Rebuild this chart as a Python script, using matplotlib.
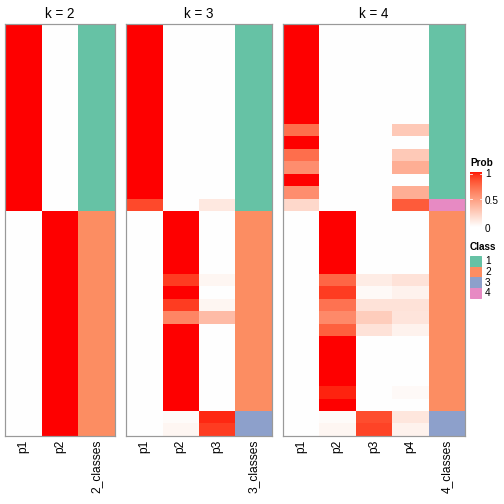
import numpy as np
import matplotlib
matplotlib.use('Agg')
from matplotlib import pyplot as plt
from matplotlib.colors import ListedColormap

plt.rcParams['font.family'] = ['Liberation Sans', 'DejaVu Sans']

# membership probabilities, one value per sample (33 samples, top to bottom)
k2_p1 = [1, 1, 1, 1, 1, 1, 1, 1, 1, 1, 1, 1, 1, 1, 1,
         0, 0, 0, 0, 0, 0, 0, 0, 0, 0, 0, 0, 0, 0, 0, 0, 0, 0]
k2_p2 = [0, 0, 0, 0, 0, 0, 0, 0, 0, 0, 0, 0, 0, 0, 0,
         1, 1, 1, 1, 1, 1, 1, 1, 1, 1, 1, 1, 1, 1, 1, 1, 1, 1]
k2_class = [1, 1, 1, 1, 1, 1, 1, 1, 1, 1, 1, 1, 1, 1, 1,
            2, 2, 2, 2, 2, 2, 2, 2, 2, 2, 2, 2, 2, 2, 2, 2, 2, 2]

k3_p1 = [1, 1, 1, 1, 1, 1, 1, 1, 1, 1, 1, 1, 1, 1, 0.86,
         0, 0, 0, 0, 0, 0, 0, 0, 0, 0, 0, 0, 0, 0, 0, 0, 0, 0]
k3_p2 = [0, 0, 0, 0, 0, 0, 0, 0, 0, 0, 0, 0, 0, 0, 0,
         1, 1, 1, 1, 1, 0.9, 1, 0.9, 0.62, 1, 1, 1, 1, 1, 1, 1, 0.02, 0.05]
k3_p3 = [0, 0, 0, 0, 0, 0, 0, 0, 0, 0, 0, 0, 0, 0, 0.12,
         0, 0, 0, 0, 0, 0.05, 0, 0.05, 0.35, 0, 0, 0, 0, 0, 0, 0, 0.95, 0.9]
k3_class = [1, 1, 1, 1, 1, 1, 1, 1, 1, 1, 1, 1, 1, 1, 1,
            2, 2, 2, 2, 2, 2, 2, 2, 2, 2, 2, 2, 2, 2, 2, 2, 3, 3]

k4_p1 = [1, 1, 1, 1, 1, 1, 1, 1, 0.72, 1, 0.72, 0.58, 1, 0.58, 0.2,
         0, 0, 0, 0, 0, 0, 0, 0, 0, 0, 0, 0, 0, 0, 0, 0, 0, 0]
k4_p2 = [0, 0, 0, 0, 0, 0, 0, 0, 0, 0, 0, 0, 0, 0, 0,
         1, 1, 1, 1, 1, 0.75, 0.9, 0.7, 0.6, 0.78, 1, 1, 1, 1, 0.96, 1, 0.02, 0.05]
k4_p3 = [0, 0, 0, 0, 0, 0, 0, 0, 0, 0, 0, 0, 0, 0, 0,
         0, 0, 0, 0, 0, 0.1, 0.03, 0.15, 0.26, 0.15, 0, 0, 0, 0, 0, 0, 0.85, 0.88]
k4_p4 = [0, 0, 0, 0, 0, 0, 0, 0, 0.28, 0, 0.28, 0.42, 0, 0.42, 0.8,
         0, 0, 0, 0, 0, 0.15, 0.07, 0.15, 0.14, 0.07, 0, 0, 0, 0, 0.03, 0, 0.13, 0.07]
k4_class = [1, 1, 1, 1, 1, 1, 1, 1, 1, 1, 1, 1, 1, 1, 4,
            2, 2, 2, 2, 2, 2, 2, 2, 2, 2, 2, 2, 2, 2, 2, 2, 3, 3]

class_labels = ['1', '2', '3', '4']
class_colors = ['#66C2A5', '#FC8D62', '#8DA0CB', '#E78AC3']


# white -> red ramp interpolated in LAB space (like colorRamp2)
def srgb_to_lab(rgb):
    rgb = np.asarray(rgb, float)
    lin = np.where(rgb <= 0.04045, rgb / 12.92, ((rgb + 0.055) / 1.055) ** 2.4)
    M = np.array([[0.4124, 0.3576, 0.1805], [0.2126, 0.7152, 0.0722], [0.0193, 0.1192, 0.9505]])
    xyz = M @ lin / np.array([0.95047, 1.0, 1.08883])
    f = np.where(xyz > 0.008856, np.cbrt(xyz), 7.787 * xyz + 16 / 116)
    return np.array([116 * f[1] - 16, 500 * (f[0] - f[1]), 200 * (f[1] - f[2])])


def lab_to_srgb(lab):
    L, a, b = lab
    fy = (L + 16) / 116
    fx = fy + a / 500
    fz = fy - b / 200
    f = np.array([fx, fy, fz])
    xyz = np.where(f ** 3 > 0.008856, f ** 3, (f - 16 / 116) / 7.787) * np.array([0.95047, 1.0, 1.08883])
    Minv = np.array([[3.2406, -1.5372, -0.4986], [-0.9689, 1.8758, 0.0415], [0.0557, -0.2040, 1.0570]])
    lin = np.clip(Minv @ xyz, 0, 1)
    return np.where(lin <= 0.0031308, 12.92 * lin, 1.055 * lin ** (1 / 2.4) - 0.055).clip(0, 1)


w = srgb_to_lab([1, 1, 1])
r = srgb_to_lab([1, 0, 0])
prob_cmap = ListedColormap([lab_to_srgb(w + t * (r - w)) for t in np.linspace(0, 1, 256)])
class_cmap = ListedColormap(class_colors)

fig = plt.figure(figsize=(7, 7), dpi=72)
W = H = 504.0
top, bottom = 24.0, 435.7


def add_panel(x0, x1, probs, classes, k):
    ax = fig.add_axes([x0 / W, 1 - bottom / H, (x1 - x0) / W, (bottom - top) / H])
    mat = np.array(probs).T
    n = mat.shape[0]
    ax.imshow(mat, cmap=prob_cmap, vmin=0, vmax=1, aspect='auto',
              extent=(0, k, n, 0), interpolation='nearest')
    ax.imshow(np.array(classes)[:, None] - 1, cmap=class_cmap, vmin=-0.5, vmax=3.5,
              aspect='auto', extent=(k, k + 1, n, 0), interpolation='nearest')
    ax.set_xlim(0, k + 1)
    ax.set_ylim(n, 0)
    ax.set_xticks(np.arange(k + 1) + 0.5)
    ax.set_xticklabels(['p%d' % (i + 1) for i in range(k)] + ['%d_classes' % k],
                       rotation=90, fontsize=12)
    ax.tick_params(length=0, pad=4)
    ax.set_yticks([])
    for s in ax.spines.values():
        s.set_color('#999999')
        s.set_linewidth(1.2)
    ax.set_title('k = %d' % k, fontsize=13.5, pad=6)


add_panel(5, 115, [k2_p1, k2_p2], k2_class, 2)
add_panel(126, 271.7, [k3_p1, k3_p2, k3_p3], k3_class, 3)
add_panel(282.7, 465, [k4_p1, k4_p2, k4_p3, k4_p4], k4_class, 4)

# Prob legend
fig.text(470 / W, 1 - 163 / H, 'Prob', fontsize=10, fontweight='bold', va='center')
cax = fig.add_axes([470 / W, 1 - 227 / H, 12 / W, 55 / H])
cax.imshow(np.linspace(1, 0, 200)[:, None], cmap=prob_cmap, vmin=0, vmax=1,
           aspect='auto', extent=(0, 1, 0, 1))
cax.set_xlim(0, 1)
cax.set_ylim(0, 1)
cax.axis('off')
for v in [1.0, 0.5]:
    yv = 0.97 if v == 1.0 else v
    cax.plot([0, 0.2], [yv, yv], color='white', lw=0.8)
    cax.plot([0.8, 1], [yv, yv], color='white', lw=0.8)
for v, yp in [('1', 174), ('0.5', 201.5), ('0', 229)]:
    fig.text(485 / W, 1 - yp / H, v, fontsize=10, va='center')

# Class legend
fig.text(470 / W, 1 - 247.5 / H, 'Class', fontsize=10, fontweight='bold', va='center')
for i, (lab, col) in enumerate(zip(class_labels, class_colors)):
    y0 = 256 + i * 10.6
    fig.patches.append(plt.Rectangle((470 / W, 1 - (y0 + 10.6) / H), 10.5 / W, 10.6 / H,
                                     transform=fig.transFigure, color=col, figure=fig))
    fig.text(485 / W, 1 - (y0 + 5.3) / H, lab, fontsize=10, va='center')

fig.savefig('out.png', dpi=72)
